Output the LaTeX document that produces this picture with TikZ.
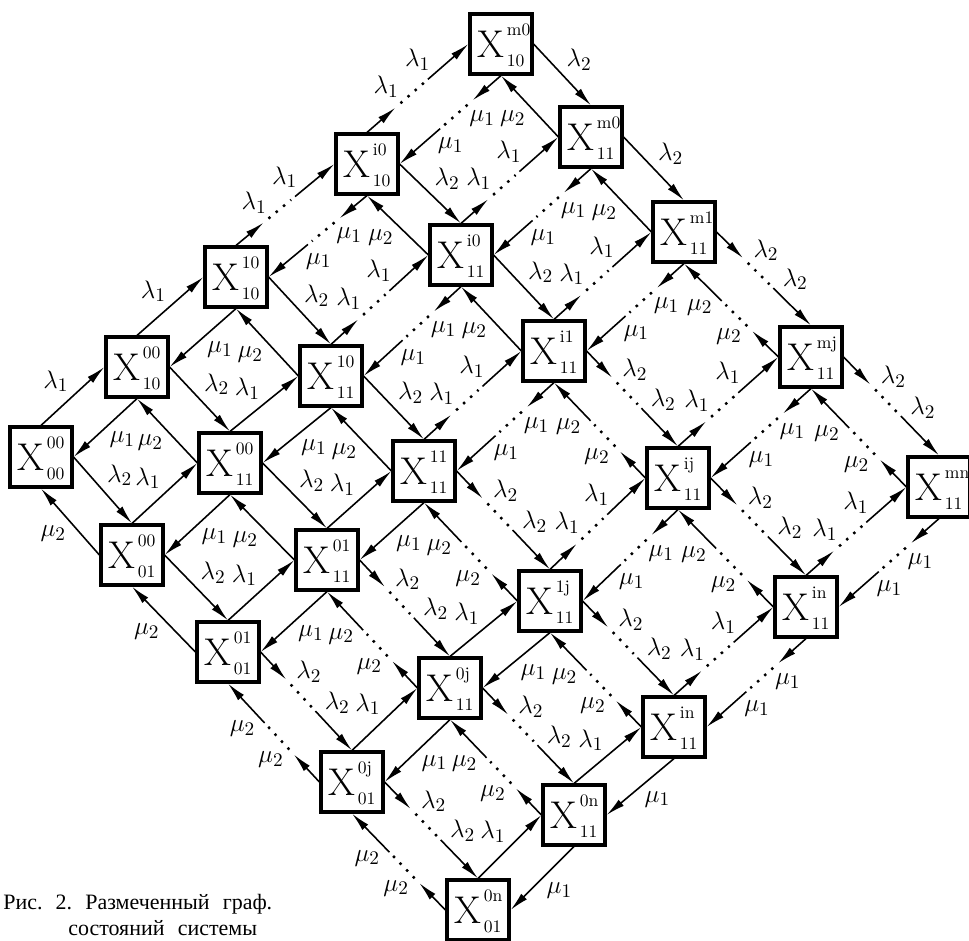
\documentclass[tikz,border=0pt]{standalone}
\usepackage{fontspec}
\usepackage{tikz}
\usetikzlibrary{arrows.meta,calc}
\newfontfamily\capfont{Liberation Serif}

% state box text and an edge that runs through the dotted gap
\newcommand{\xst}[2]{X\kern1.5pt\smash{\makebox[0pt][l]{\raisebox{12.5pt}{\fontsize{10}{10}\selectfont #1}}%
  \raisebox{-5.5pt}{\fontsize{10}{10}\selectfont #2}}}
\newcommand{\gapedge}[3]{%
  \path (#1) -- node[lbl,pos=0.35]{#3} node[lbl,pos=0.66]{#3} (#2);
  \draw[arrow] (#1) -- ($(#1)!0.28!(#2)$);
  \draw[dotline] ($(#1)!0.33!(#2)$) -- ($(#1)!0.56!(#2)$);
  \draw[arrow] ($(#1)!0.6!(#2)$) -- (#2);
}

\begin{document}
\begin{tikzpicture}[
  x=0.02cm, y=-0.02cm,
  box/.style   = {rectangle, draw, line width=1.8pt, minimum width=1.24cm,
                  minimum height=1.2cm, inner sep=0pt, font=\fontsize{22}{22}\selectfont},
  arrow/.style = {-{Latex[length=3.8mm,width=1.6mm]}, line width=0.9pt},
  dotline/.style = {line width=1.4pt, dash pattern=on 1.4pt off 4pt},
  lbl/.style   = {auto, inner sep=2pt, font=\fontsize{15}{15}\selectfont},
  capt/.style  = {font=\capfont\fontsize{12.5}{14.5}\selectfont, align=left, inner sep=0pt}
]
  \useasboundingbox (0,0) rectangle (969,940);

  % ---- Row 0: X_10 edge ----
  \node[box] at (41,457)  (x0000) {\xst{00}{00}};
  \node[box] at (137,367) (x0010) {\xst{00}{10}};
  \node[box] at (236,277) (x1010) {\xst{10}{10}};
  \node[box] at (367,164) (xi010) {\xst{i0}{10}};
  \node[box] at (501,44)  (xm010) {\xst{m0}{10}};

  % ---- Row 1 ----
  \node[box] at (132,555) (x0001) {\xst{00}{01}};
  \node[box] at (230,463) (x0011) {\xst{00}{11}};
  \node[box] at (331,376) (x1011) {\xst{10}{11}};
  \node[box] at (461,255) (xi011) {\xst{i0}{11}};
  \node[box] at (591,137) (xm011) {\xst{m0}{11}};

  % ---- Row 2 ----
  \node[box] at (228,652) (x0101) {\xst{01}{01}};
  \node[box] at (327,560) (x0111) {\xst{01}{11}};
  \node[box] at (424,471) (x1111) {\xst{11}{11}};
  \node[box] at (554,351) (xi111) {\xst{i1}{11}};
  \node[box] at (684,232) (xm111) {\xst{m1}{11}};

  % ---- Row 3 ----
  \node[box] at (352,782) (x0j01) {\xst{0j}{01}};
  \node[box] at (450,688) (x0j11) {\xst{0j}{11}};
  \node[box] at (550,601) (x1j11) {\xst{1j}{11}};
  \node[box] at (678,478) (xij11) {\xst{ij}{11}};
  \node[box] at (811,357) (xmj11) {\xst{mj}{11}};

  % ---- Row 4 ----
  \node[box] at (478,910) (x0n01) {\xst{0n}{01}};
  \node[box] at (574,815) (x0n11) {\xst{0n}{11}};
  \node[box] at (674,727) (x1n11) {\xst{in}{11}};
  \node[box] at (806,607) (xin11) {\xst{in}{11}};
  \node[box] at (939,487) (xmn11) {\xst{mn}{11}};

  % ---- Caption ----
  \node[capt, anchor=north west] at (3,894) (capt)
    {Рис.\hspace{0.6em}2.\hspace{0.6em}Размеченный\hspace{0.6em}граф.\\
     \hspace*{1.3cm}состояний\hspace{0.6em}системы};

  % ---- lambda_1 / mu_1 ----
  \draw[arrow] (x0000.north) -- node[lbl]{$\lambda_1$} (x0010.west);
  \draw[arrow] (x0010.south) -- node[lbl]{$\mu_1$}     (x0000.east);
  \draw[arrow] (x0010.north) -- node[lbl]{$\lambda_1$} (x1010.west);
  \draw[arrow] (x1010.south) -- node[lbl]{$\mu_1$}     (x0010.east);
  \gapedge{x1010.north}{xi010.west}{$\lambda_1$}
  \gapedge{xi010.south}{x1010.east}{$\mu_1$}
  \gapedge{xi010.north}{xm010.west}{$\lambda_1$}
  \gapedge{xm010.south}{xi010.east}{$\mu_1$}

  \draw[arrow] (x0001.north) -- node[lbl]{$\lambda_1$} (x0011.west);
  \draw[arrow] (x0011.south) -- node[lbl]{$\mu_1$}     (x0001.east);
  \draw[arrow] (x0011.north) -- node[lbl]{$\lambda_1$} (x1011.west);
  \draw[arrow] (x1011.south) -- node[lbl]{$\mu_1$}     (x0011.east);
  \gapedge{x1011.north}{xi011.west}{$\lambda_1$}
  \gapedge{xi011.south}{x1011.east}{$\mu_1$}
  \gapedge{xi011.north}{xm011.west}{$\lambda_1$}
  \gapedge{xm011.south}{xi011.east}{$\mu_1$}

  \draw[arrow] (x0101.north) -- node[lbl]{$\lambda_1$} (x0111.west);
  \draw[arrow] (x0111.south) -- node[lbl]{$\mu_1$}     (x0101.east);
  \draw[arrow] (x0111.north) -- node[lbl]{$\lambda_1$} (x1111.west);
  \draw[arrow] (x1111.south) -- node[lbl]{$\mu_1$}     (x0111.east);
  \gapedge{x1111.north}{xi111.west}{$\lambda_1$}
  \gapedge{xi111.south}{x1111.east}{$\mu_1$}
  \gapedge{xi111.north}{xm111.west}{$\lambda_1$}
  \gapedge{xm111.south}{xi111.east}{$\mu_1$}

  \draw[arrow] (x0j01.north) -- node[lbl]{$\lambda_1$} (x0j11.west);
  \draw[arrow] (x0j11.south) -- node[lbl]{$\mu_1$}     (x0j01.east);
  \draw[arrow] (x0j11.north) -- node[lbl]{$\lambda_1$} (x1j11.west);
  \draw[arrow] (x1j11.south) -- node[lbl]{$\mu_1$}     (x0j11.east);
  \gapedge{x1j11.north}{xij11.west}{$\lambda_1$}
  \gapedge{xij11.south}{x1j11.east}{$\mu_1$}
  \gapedge{xij11.north}{xmj11.west}{$\lambda_1$}
  \gapedge{xmj11.south}{xij11.east}{$\mu_1$}

  \draw[arrow] (x0n01.north) -- node[lbl]{$\lambda_1$} (x0n11.west);
  \draw[arrow] (x0n11.south) -- node[lbl]{$\mu_1$}     (x0n01.east);
  \draw[arrow] (x0n11.north) -- node[lbl]{$\lambda_1$} (x1n11.west);
  \draw[arrow] (x1n11.south) -- node[lbl]{$\mu_1$}     (x0n11.east);
  \gapedge{x1n11.north}{xin11.west}{$\lambda_1$}
  \gapedge{xin11.south}{x1n11.east}{$\mu_1$}
  \gapedge{xin11.north}{xmn11.west}{$\lambda_1$}
  \gapedge{xmn11.south}{xin11.east}{$\mu_1$}

  % ---- lambda_2 / mu_2 ----
  \draw[arrow] (x0000.east)  -- node[lbl]{$\lambda_2$} (x0001.north);
  \draw[arrow] (x0001.west)  -- node[lbl]{$\mu_2$}     (x0000.south);
  \draw[arrow] (x0001.east)  -- node[lbl]{$\lambda_2$} (x0101.north);
  \draw[arrow] (x0101.west)  -- node[lbl]{$\mu_2$}     (x0001.south);
  \gapedge{x0101.east}{x0j01.north}{$\lambda_2$}
  \gapedge{x0j01.west}{x0101.south}{$\mu_2$}
  \gapedge{x0j01.east}{x0n01.north}{$\lambda_2$}
  \gapedge{x0n01.west}{x0j01.south}{$\mu_2$}

  \draw[arrow] (x0010.east)  -- node[lbl]{$\lambda_2$} (x0011.north);
  \draw[arrow] (x0011.west)  -- node[lbl]{$\mu_2$}     (x0010.south);
  \draw[arrow] (x0011.east)  -- node[lbl]{$\lambda_2$} (x0111.north);
  \draw[arrow] (x0111.west)  -- node[lbl]{$\mu_2$}     (x0011.south);
  \gapedge{x0111.east}{x0j11.north}{$\lambda_2$}
  \gapedge{x0j11.west}{x0111.south}{$\mu_2$}
  \gapedge{x0j11.east}{x0n11.north}{$\lambda_2$}
  \gapedge{x0n11.west}{x0j11.south}{$\mu_2$}

  \draw[arrow] (x1010.east)  -- node[lbl]{$\lambda_2$} (x1011.north);
  \draw[arrow] (x1011.west)  -- node[lbl]{$\mu_2$}     (x1010.south);
  \draw[arrow] (x1011.east)  -- node[lbl]{$\lambda_2$} (x1111.north);
  \draw[arrow] (x1111.west)  -- node[lbl]{$\mu_2$}     (x1011.south);
  \gapedge{x1111.east}{x1j11.north}{$\lambda_2$}
  \gapedge{x1j11.west}{x1111.south}{$\mu_2$}
  \gapedge{x1j11.east}{x1n11.north}{$\lambda_2$}
  \gapedge{x1n11.west}{x1j11.south}{$\mu_2$}

  \draw[arrow] (xi010.east)  -- node[lbl]{$\lambda_2$} (xi011.north);
  \draw[arrow] (xi011.west)  -- node[lbl]{$\mu_2$}     (xi010.south);
  \draw[arrow] (xi011.east)  -- node[lbl]{$\lambda_2$} (xi111.north);
  \draw[arrow] (xi111.west)  -- node[lbl]{$\mu_2$}     (xi011.south);
  \gapedge{xi111.east}{xij11.north}{$\lambda_2$}
  \gapedge{xij11.west}{xi111.south}{$\mu_2$}
  \gapedge{xij11.east}{xin11.north}{$\lambda_2$}
  \gapedge{xin11.west}{xij11.south}{$\mu_2$}

  \draw[arrow] (xm010.east)  -- node[lbl]{$\lambda_2$} (xm011.north);
  \draw[arrow] (xm011.west)  -- node[lbl]{$\mu_2$}     (xm010.south);
  \draw[arrow] (xm011.east)  -- node[lbl]{$\lambda_2$} (xm111.north);
  \draw[arrow] (xm111.west)  -- node[lbl]{$\mu_2$}     (xm011.south);
  \gapedge{xm111.east}{xmj11.north}{$\lambda_2$}
  \gapedge{xmj11.west}{xm111.south}{$\mu_2$}
  \gapedge{xmj11.east}{xmn11.north}{$\lambda_2$}
  \gapedge{xmn11.west}{xmj11.south}{$\mu_2$}
\end{tikzpicture}
\end{document}
